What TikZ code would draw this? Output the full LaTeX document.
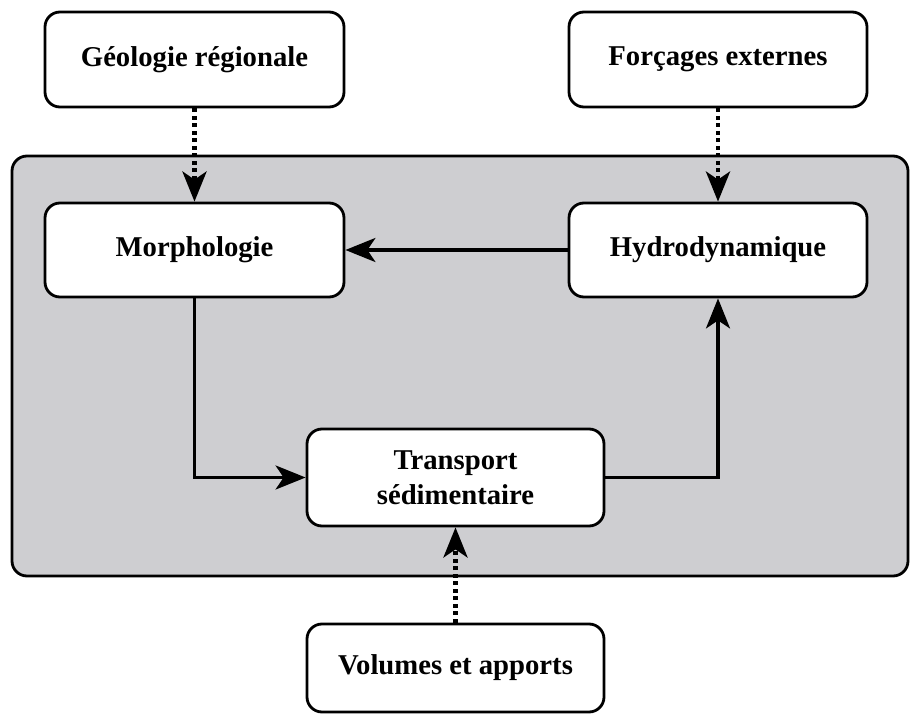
\documentclass[tikz,border=0pt]{standalone}
\usepackage{fontspec}
\setmainfont{Liberation Serif}
\usetikzlibrary{arrows.meta}
\definecolor{bggrey}{RGB}{206,206,209}
\tikzset{
  box/.style={draw=black, line width=2.8pt, rounded corners=15pt, fill=white,
    font=\fontsize{28.7}{34.5}\selectfont\bfseries, align=center, inner sep=0pt},
  flow/.style={line width=3.5pt, -{Stealth[length=30pt,width=24pt,inset=8pt]}},
  infl/.style={line width=4.5pt, dash pattern=on 4pt off 3.5pt, -{Stealth[length=30pt,width=24pt,inset=8pt]}},
  bgpanel/.style={draw=black, line width=2.8pt, rounded corners=15pt, fill=bggrey}
}
\begin{document}
\begin{tikzpicture}[x=1pt,y=-1pt]
\useasboundingbox (0,0) rectangle (910,714);
\draw[bgpanel] (12,156) rectangle (908,576);
\node[box, minimum width=299pt, minimum height=95pt] (geo) at (194.5,59.5) {Géologie régionale};
\node[box, minimum width=298pt, minimum height=95pt] (forc) at (718,59.5) {Forçages externes};
\node[box, minimum width=299pt, minimum height=94pt] (morph) at (194.5,250) {Morphologie};
\node[box, minimum width=298pt, minimum height=94pt] (hydro) at (718,250) {Hydrodynamique};
\node[box, minimum width=297pt, minimum height=97pt] (trans) at (455.5,477.5) {Transport\\sédimentaire};
\node[box, minimum width=297pt, minimum height=88pt] (vol) at (455.5,668) {Volumes et apports};
\draw[infl] (geo.south) -- (morph.north);
\draw[infl] (forc.south) -- (hydro.north);
\draw[infl] (vol.north) -- (trans.south);
\draw[flow] (hydro.west) -- (morph.east);
\draw[flow] (morph.south) |- (trans.west);
\draw[flow] (trans.east) -| (hydro.south);
\end{tikzpicture}
\end{document}
